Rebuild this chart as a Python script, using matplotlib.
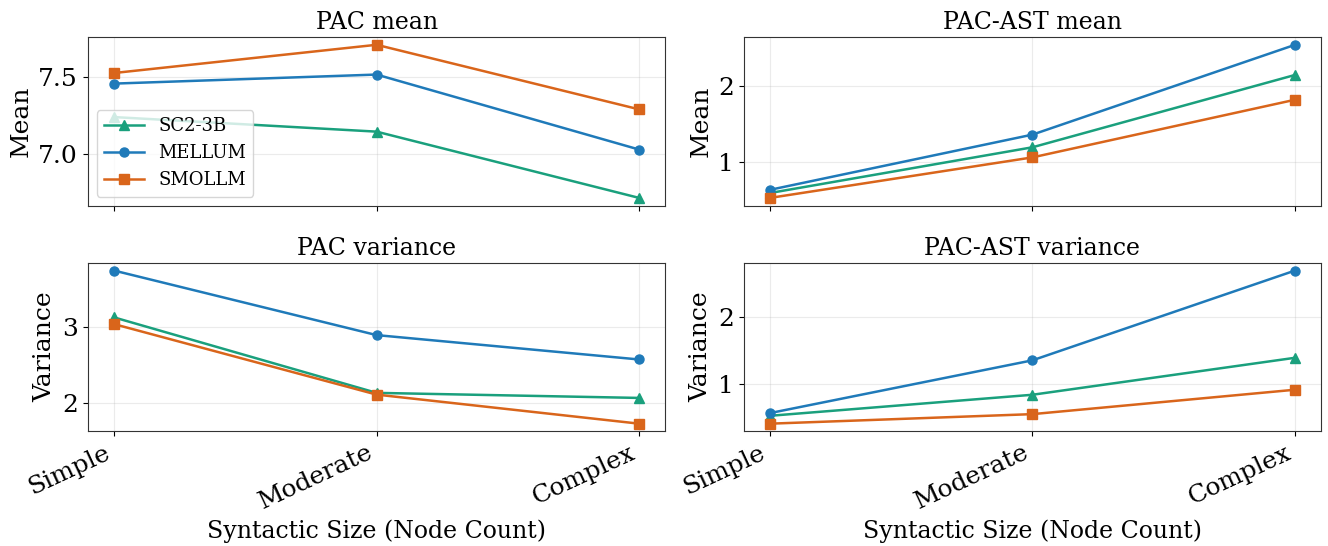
import matplotlib
matplotlib.use("Agg")
import matplotlib.pyplot as plt

plt.rcParams['font.family'] = ['DejaVu Serif']

levels = ["Simple", "Moderate", "Complex"]
models = ["SC2-3B", "MELLUM", "SMOLLM"]

# values
pac_mean = {
    "SC2-3B": [7.24, 7.145, 6.713],
    "MELLUM": [7.458, 7.517, 7.028],
    "SMOLLM": [7.527, 7.711, 7.29],
}
ast_mean = {
    "SC2-3B": [0.585, 1.192, 2.152],
    "MELLUM": [0.627, 1.36, 2.552],
    "SMOLLM": [0.52, 1.058, 1.823],
}
pac_var = {
    "SC2-3B": [3.129, 2.129, 2.062],
    "MELLUM": [3.749, 2.894, 2.571],
    "SMOLLM": [3.04, 2.106, 1.721],
}
ast_var = {
    "SC2-3B": [0.527, 0.84, 1.39],
    "MELLUM": [0.567, 1.352, 2.687],
    "SMOLLM": [0.41, 0.552, 0.915],
}

colors = {"SC2-3B": "#1aa07d", "MELLUM": "#1f7ab9", "SMOLLM": "#d9651b"}
markers = {"SC2-3B": "^", "MELLUM": "o", "SMOLLM": "s"}

fig, axes = plt.subplots(2, 2, figsize=(13.28, 5.46), dpi=100, sharex=True)
panels = [
    (axes[0, 0], pac_mean, "PAC mean", "Mean"),
    (axes[0, 1], ast_mean, "PAC-AST mean", "Mean"),
    (axes[1, 0], pac_var, "PAC variance", "Variance"),
    (axes[1, 1], ast_var, "PAC-AST variance", "Variance"),
]
x = list(range(len(levels)))
for ax, data, title, ylab in panels:
    for m in models:
        ax.plot(x, data[m], color=colors[m], marker=markers[m], markersize=6.5,
                linewidth=1.8, label=m)
    ax.set_title(title, fontsize=17)
    ax.set_ylabel(ylab, fontsize=18)
    ax.tick_params(labelsize=18)
    ax.grid(True, alpha=0.25)
    for s in ax.spines.values():
        s.set_color("#333333")

for ax in axes[1]:
    ax.set_xticks(x)
    ax.set_xticklabels(levels, rotation=25, ha="right", fontsize=18)
    ax.set_xlabel("Syntactic Size (Node Count)", fontsize=17)

axes[0, 1].set_yticks([1, 2])
axes[1, 1].set_yticks([1, 2])
axes[1, 0].set_yticks([2, 3])

axes[0, 0].legend(loc="lower left", fontsize=13, handlelength=2.2)

fig.subplots_adjust(left=0.066, right=0.995, top=0.932, bottom=0.21, wspace=0.135, hspace=0.34)
fig.savefig("out.png")
